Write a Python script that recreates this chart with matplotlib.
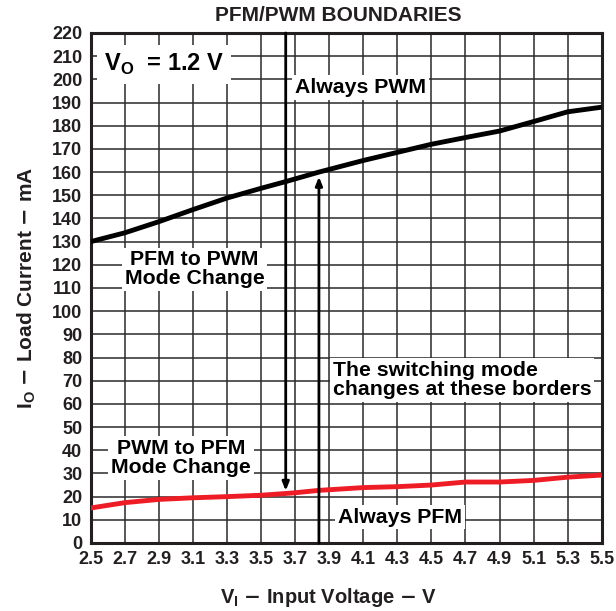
import numpy as np
import matplotlib
matplotlib.use('Agg')
import matplotlib.pyplot as plt
from matplotlib.ticker import MultipleLocator, FormatStrFormatter

plt.rcParams['font.family'] = ['Liberation Sans', 'DejaVu Sans']
plt.rcParams['font.weight'] = 'bold'

# PFM -> PWM boundary (black)
vin_up = [2.5, 2.7, 2.9, 3.1, 3.3, 3.5, 3.65, 3.84, 4.1, 4.3, 4.5, 4.7, 4.9, 5.1, 5.3, 5.5]
io_up = [130, 133.8, 138.6, 143.8, 148.8, 153, 156, 160, 165, 168.5, 172, 174.9, 177.7, 181.8, 186, 188]

# PWM -> PFM boundary (red)
vin_dn = [2.5, 2.7, 2.9, 3.1, 3.3, 3.5, 3.69, 3.84, 4.1, 4.3, 4.5, 4.7, 4.9, 5.1, 5.3, 5.5]
io_dn = [15.1, 17.4, 18.8, 19.5, 20.0, 20.6, 21.6, 22.7, 23.9, 24.3, 25.0, 26.3, 26.3, 27.0, 28.4, 29.3]

x_ticks = np.round(np.arange(2.5, 5.51, 0.2), 1)
y_ticks = np.arange(0, 221, 10)

fig = plt.figure(figsize=(6.16, 6.11), dpi=100)
ax = fig.add_axes([0.1472, 0.1113, 0.8296, 0.8347])

ax.set_xlim(2.5, 5.5)
ax.set_ylim(0, 220)
ax.set_xticks(x_ticks)
ax.set_yticks(y_ticks)
ax.xaxis.set_major_formatter(FormatStrFormatter('%.1f'))
ax.tick_params(length=0, labelsize=13, pad=6)
for lab in ax.get_xticklabels() + ax.get_yticklabels():
    lab.set_fontweight('bold')
    lab.set_color('#231f20')
ax.grid(True, color='#2a2a2a', lw=1.1)
ax.set_axisbelow(True)
for s in ax.spines.values():
    s.set_linewidth(2.2)
    s.set_color('#231f20')

ax.plot(vin_up, io_up, color='black', lw=3.5, solid_capstyle='butt', zorder=4, clip_on=True)
ax.plot(vin_dn, io_dn, color='#ee1c25', lw=3.5, solid_capstyle='butt', zorder=4, clip_on=True)

# arrows
ax.annotate('', xy=(3.645, 22.5), xytext=(3.645, 220),
            arrowprops=dict(arrowstyle='-|>,head_length=0.5,head_width=0.2', lw=2, color='black',
                            shrinkA=0, shrinkB=0), zorder=5)
ax.annotate('', xy=(3.84, 158), xytext=(3.84, 0),
            arrowprops=dict(arrowstyle='-|>,head_length=0.5,head_width=0.2', lw=2, color='black',
                            shrinkA=0, shrinkB=0), zorder=5)

box = dict(facecolor='white', edgecolor='none', pad=2)
ax.text(2.58, 206.5, r'V$_\mathregular{O}$  = 1.2 V', fontsize=17, fontweight='bold',
        va='center', ha='left', bbox=dict(facecolor='white', edgecolor='none', pad=5), zorder=6)
ax.text(3.70, 196.5, 'Always PWM', fontsize=15.3, fontweight='bold', va='center', ha='left',
        bbox=box, zorder=6)
ax.text(3.11, 118, 'PFM to PWM\nMode Change', fontsize=15.3, fontweight='bold', va='center',
        ha='center', linespacing=1.0, bbox=box, zorder=6)
ax.text(3.92, 70.3, 'The switching mode\nchanges at these borders', fontsize=15.3,
        fontweight='bold', va='center', ha='left', linespacing=1.05, bbox=box, zorder=6)
ax.text(3.03, 36.7, 'PWM to PFM\nMode Change', fontsize=15.3, fontweight='bold', va='center',
        ha='center', linespacing=1.0, bbox=box, zorder=6)
ax.text(4.316, 11.2, 'Always PFM', fontsize=15.3, fontweight='bold', va='center', ha='center',
        bbox=box, zorder=6)

fig.text(0.549, 0.975, 'PFM/PWM BOUNDARIES', fontsize=15, fontweight='bold', ha='center', va='center',
         color='#231f20')
ax.set_xlabel(r'V$_\mathregular{I}$ $-$ Input Voltage $-$ V', fontsize=14.5, fontweight='bold',
              labelpad=10, color='#231f20')
ax.xaxis.set_label_coords(0.466, -0.085)
ax.set_ylabel(r'I$_\mathregular{O}$ $-$ Load Current $-$ mA', fontsize=15, fontweight='bold',
              labelpad=10, color='#231f20')

fig.savefig('out.png', dpi=100)
